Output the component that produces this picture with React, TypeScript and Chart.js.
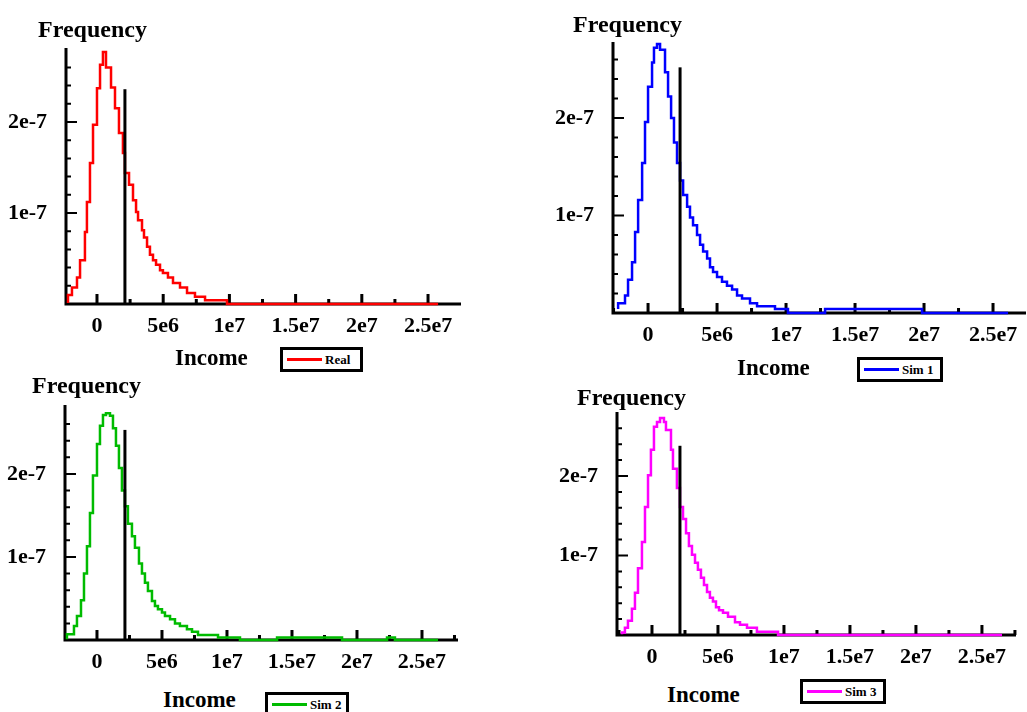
import React, { useEffect, useRef } from "react";
import { Chart, registerables } from "chart.js";

Chart.register(...registerables);

// ---------- tick values and labels ----------
const xMajorTicks = [0, 5e6, 1e7, 1.5e7, 2e7, 2.5e7];
const xTickLabels = ["0", "5e6", "1e7", "1.5e7", "2e7", "2.5e7"];
const xMinorTicks = [-2.5e6, 2.5e6, 7.5e6, 1.25e7, 1.75e7, 2.25e7, 2.75e7];
const yMajorTicks = [1e-7, 2e-7];
const yTickLabels = ["1e-7", "2e-7"];
const yMinorTicks = [0.2e-7, 0.4e-7, 0.6e-7, 0.8e-7, 1.2e-7, 1.4e-7, 1.6e-7, 1.8e-7, 2.2e-7, 2.4e-7, 2.6e-7];

// ---------- histogram bins (bin start income, last entry = end of last bin) ----------
const realBinStarts = [
  -2.19e6, -1.89e6, -1.51e6, -1.28e6, -0.91e6, -0.76e6, -0.53e6, -0.30e6, 0, 0.23e6,
  0.45e6, 0.68e6, 1.06e6, 1.36e6, 1.66e6, 1.96e6, 2.11e6, 2.42e6, 2.72e6, 2.95e6,
  3.10e6, 3.40e6, 3.55e6, 3.78e6, 4.00e6, 4.23e6, 4.46e6, 4.76e6, 4.98e6, 5.36e6,
  5.74e6, 6.27e6, 6.80e6, 7.40e6, 8.16e6, 9.82e6, 12.08e6, 25.76e6,
];
const realDensity = [
  0.01e-7, 0.10e-7, 0.18e-7, 0.29e-7, 0.48e-7, 0.79e-7, 1.12e-7, 1.55e-7, 1.97e-7, 2.37e-7,
  2.63e-7, 2.77e-7, 2.60e-7, 2.38e-7, 2.15e-7, 1.88e-7, 1.66e-7, 1.44e-7, 1.31e-7, 1.14e-7,
  1.01e-7, 0.92e-7, 0.81e-7, 0.73e-7, 0.63e-7, 0.54e-7, 0.48e-7, 0.43e-7, 0.37e-7, 0.34e-7,
  0.29e-7, 0.23e-7, 0.18e-7, 0.12e-7, 0.08e-7, 0.04e-7, 0,
];

const sim1BinStarts = [
  -2.17e6, -1.67e6, -1.45e6, -1.16e6, -0.94e6, -0.72e6, -0.43e6, -0.22e6, 0, 0.29e6,
  0.43e6, 0.65e6, 0.87e6, 1.23e6, 1.45e6, 1.67e6, 1.88e6, 2.10e6, 2.32e6, 2.54e6,
  2.83e6, 3.04e6, 3.26e6, 3.55e6, 3.77e6, 3.99e6, 4.28e6, 4.49e6, 4.71e6, 5.00e6,
  5.36e6, 5.72e6, 6.09e6, 6.45e6, 6.81e6, 7.39e6, 7.90e6, 9.20e6, 10.14e6, 12.83e6,
  19.86e6, 20.80e6, 26.09e6,
];
const sim1Density = [
  0.04e-7, 0.10e-7, 0.18e-7, 0.34e-7, 0.52e-7, 0.83e-7, 1.16e-7, 1.54e-7, 1.96e-7, 2.32e-7,
  2.57e-7, 2.72e-7, 2.76e-7, 2.70e-7, 2.47e-7, 2.22e-7, 2.00e-7, 1.75e-7, 1.54e-7, 1.36e-7,
  1.21e-7, 1.09e-7, 0.98e-7, 0.90e-7, 0.80e-7, 0.70e-7, 0.63e-7, 0.56e-7, 0.47e-7, 0.42e-7,
  0.37e-7, 0.32e-7, 0.28e-7, 0.24e-7, 0.18e-7, 0.15e-7, 0.10e-7, 0.07e-7, 0.04e-7, 0,
  0.04e-7, 0,
];

const sim2BinStarts = [
  -2.31e6, -1.77e6, -1.54e6, -1.23e6, -1.00e6, -0.77e6, -0.54e6, -0.31e6, 0, 0.23e6,
  0.46e6, 0.69e6, 1.00e6, 1.23e6, 1.46e6, 1.69e6, 1.92e6, 2.15e6, 2.38e6, 2.69e6,
  2.92e6, 3.23e6, 3.46e6, 3.69e6, 3.92e6, 4.23e6, 4.46e6, 4.69e6, 5.00e6, 5.23e6,
  5.62e6, 6.00e6, 6.38e6, 6.92e6, 7.31e6, 7.77e6, 9.31e6, 11.00e6, 13.85e6, 18.85e6,
  22.31e6, 22.92e6, 25.23e6, 26.23e6,
];
const sim2Density = [
  0.01e-7, 0.07e-7, 0.17e-7, 0.29e-7, 0.48e-7, 0.80e-7, 1.13e-7, 1.53e-7, 1.98e-7, 2.36e-7,
  2.58e-7, 2.71e-7, 2.73e-7, 2.70e-7, 2.55e-7, 2.34e-7, 2.07e-7, 1.80e-7, 1.61e-7, 1.40e-7,
  1.25e-7, 1.11e-7, 0.92e-7, 0.80e-7, 0.69e-7, 0.59e-7, 0.47e-7, 0.41e-7, 0.37e-7, 0.33e-7,
  0.29e-7, 0.25e-7, 0.20e-7, 0.17e-7, 0.13e-7, 0.10e-7, 0.06e-7, 0.03e-7, 0, 0.03e-7,
  0, 0.03e-7, 0,
];

const sim3BinStarts = [
  -2.27e6, -2.05e6, -1.82e6, -1.52e6, -1.29e6, -1.06e6, -0.76e6, -0.53e6, -0.30e6, -0.08e6,
  0.15e6, 0.38e6, 0.61e6, 0.91e6, 1.06e6, 1.44e6, 1.59e6, 1.89e6, 2.12e6, 2.35e6,
  2.58e6, 2.80e6, 3.03e6, 3.26e6, 3.48e6, 3.71e6, 3.94e6, 4.17e6, 4.39e6, 4.62e6,
  4.85e6, 5.08e6, 5.38e6, 5.76e6, 6.29e6, 6.67e6, 7.20e6, 7.95e6, 9.55e6, 12.50e6,
  26.52e6,
];
const sim3Density = [
  0.01e-7, 0.03e-7, 0.09e-7, 0.18e-7, 0.33e-7, 0.53e-7, 0.84e-7, 1.17e-7, 1.61e-7, 2.01e-7,
  2.33e-7, 2.62e-7, 2.68e-7, 2.73e-7, 2.68e-7, 2.58e-7, 2.33e-7, 2.09e-7, 1.85e-7, 1.61e-7,
  1.46e-7, 1.28e-7, 1.12e-7, 1.01e-7, 0.91e-7, 0.82e-7, 0.72e-7, 0.63e-7, 0.54e-7, 0.47e-7,
  0.42e-7, 0.35e-7, 0.31e-7, 0.28e-7, 0.23e-7, 0.16e-7, 0.13e-7, 0.09e-7, 0.04e-7, 0,
];

// black vertical marker (income position and its height) per panel
const markerIncome = [2.11e6, 2.32e6, 2.15e6, 2.12e6];
const markerHeight = [2.36e-7, 2.52e-7, 2.53e-7, 2.38e-7];

const seriesNames = ["Real", "Sim 1", "Sim 2", "Sim 3"];
const seriesColors = ["#ff0000", "#0000ff", "#00bb00", "#ff00ff"];

// ---------- layout ----------
const Y_W = 60;
const X_H = 44;
const PAD_T = 30;
const PAD_R = 12;
const SERIF = '"Liberation Serif", "Times New Roman", serif';

const panels = [
  {
    starts: realBinStarts, dens: realDensity,
    plot: { l: 66, t: 48, r: 461, b: 304 }, xMin: -2.34e6, xMax: 27.49e6, yMax: 2.813e-7,
    freq: { x: 38, y: 17 }, income: { x: 175, y: 346 }, legend: { x: 280, y: 347, w: 83, h: 25 },
  },
  {
    starts: sim1BinStarts, dens: sim1Density,
    plot: { l: 613, t: 42, r: 1026, b: 313 }, xMin: -2.54e6, xMax: 27.39e6, yMax: 2.78e-7,
    freq: { x: 573, y: 12 }, income: { x: 737, y: 356 }, legend: { x: 857, y: 357, w: 86, h: 25 },
  },
  {
    starts: sim2BinStarts, dens: sim2Density,
    plot: { l: 65, t: 405, r: 458, b: 640 }, xMin: -2.46e6, xMax: 27.77e6, yMax: 2.83e-7,
    freq: { x: 32, y: 373 }, income: { x: 163, y: 688 }, legend: { x: 265, y: 692, w: 84, h: 25 },
  },
  {
    starts: sim3BinStarts, dens: sim3Density,
    plot: { l: 617, t: 412, r: 1016, b: 635 }, xMin: -2.65e6, xMax: 27.58e6, yMax: 2.805e-7,
    freq: { x: 577, y: 385 }, income: { x: 667, y: 683 }, legend: { x: 800, y: 679, w: 86, h: 25 },
  },
];

const isIn = (v: number, arr: number[]) =>
  arr.some((m) => Math.abs(v - m) <= Math.abs(m) * 1e-6 + 1e-13);

const labelFor = (v: number, vals: number[], labels: string[]) => {
  const i = vals.findIndex((m) => Math.abs(v - m) <= Math.abs(m) * 1e-6 + 1e-13);
  return i >= 0 ? labels[i] : "";
};

const stepData = (starts: number[], dens: number[]) =>
  starts.map((x, i) => ({ x, y: dens[Math.min(i, dens.length - 1)] }));

const axesPlugin = {
  id: "insideAxes",
  beforeDatasetsDraw(chart: any) {
    const { ctx, chartArea: a, scales } = chart;
    const xs = scales.x;
    const ys = scales.y;
    ctx.save();
    ctx.strokeStyle = "#000";
    ctx.lineCap = "butt";
    ctx.lineWidth = 3;
    ctx.beginPath();
    ctx.moveTo(a.left, a.top);
    ctx.lineTo(a.left, a.bottom + 1.5);
    ctx.moveTo(a.left - 1.5, a.bottom);
    ctx.lineTo(a.right, a.bottom);
    ctx.stroke();
    ctx.beginPath();
    xs.ticks.forEach((t: any) => {
      const p = xs.getPixelForValue(t.value);
      const len = isIn(t.value, xMajorTicks) ? 10 : 5;
      ctx.moveTo(p, a.bottom);
      ctx.lineTo(p, a.bottom - len);
    });
    ctx.stroke();
    ctx.lineWidth = 2;
    ctx.beginPath();
    ys.ticks.forEach((t: any) => {
      const p = ys.getPixelForValue(t.value);
      const len = isIn(t.value, yMajorTicks) ? 11 : 5;
      ctx.moveTo(a.left, p);
      ctx.lineTo(a.left + len, p);
    });
    ctx.stroke();
    ctx.restore();
  },
};

function Panel({ idx }: { idx: number }) {
  const ref = useRef<HTMLCanvasElement | null>(null);
  const p = panels[idx];
  const w = p.plot.r - p.plot.l + Y_W + PAD_R;
  const h = p.plot.b - p.plot.t + PAD_T + X_H;

  useEffect(() => {
    if (!ref.current) return;
    const xTicks = [...xMajorTicks, ...xMinorTicks]
      .filter((v) => v >= p.xMin && v <= p.xMax)
      .sort((a, b) => a - b);
    const yTicks = [...yMajorTicks, ...yMinorTicks]
      .filter((v) => v >= 0 && v <= p.yMax)
      .sort((a, b) => a - b);
    const chart = new Chart(ref.current, {
      type: "line",
      data: {
        datasets: [
          {
            label: seriesNames[idx],
            data: stepData(p.starts, p.dens),
            borderColor: seriesColors[idx],
            borderWidth: 2.5,
            stepped: "after",
            pointRadius: 0,
            fill: false,
            borderJoinStyle: "miter",
            order: 2,
            clip: false,
          } as any,
          {
            label: "marker",
            data: [
              { x: markerIncome[idx], y: 0 },
              { x: markerIncome[idx], y: markerHeight[idx] },
            ],
            borderColor: "#000",
            borderWidth: 3,
            pointRadius: 0,
            fill: false,
            order: 1,
            clip: false,
          } as any,
        ],
      },
      options: {
        animation: false,
        responsive: false,
        maintainAspectRatio: false,
        events: [],
        layout: { padding: { top: PAD_T, right: PAD_R, left: 0, bottom: 0 } },
        plugins: {
          legend: { display: false },
          tooltip: { enabled: false },
          title: { display: false },
        },
        scales: {
          x: {
            type: "linear",
            min: p.xMin,
            max: p.xMax,
            bounds: "data",
            grid: { display: false },
            border: { display: false },
            afterBuildTicks: (s: any) => {
              s.ticks = xTicks.map((v) => ({ value: v }));
            },
            afterFit: (s: any) => {
              s.height = X_H;
            },
            ticks: {
              autoSkip: false,
              includeBounds: false,
              maxRotation: 0,
              minRotation: 0,
              padding: 1,
              color: "#000",
              font: { family: SERIF, size: 22, weight: "bold" },
              callback: (v: any) => labelFor(Number(v), xMajorTicks, xTickLabels),
            },
          } as any,
          y: {
            type: "linear",
            min: 0,
            max: p.yMax,
            bounds: "data",
            grid: { display: false },
            border: { display: false },
            afterBuildTicks: (s: any) => {
              s.ticks = yTicks.map((v) => ({ value: v }));
            },
            afterFit: (s: any) => {
              s.width = Y_W;
            },
            ticks: {
              autoSkip: false,
              includeBounds: false,
              padding: 11,
              color: "#000",
              font: { family: SERIF, size: 22, weight: "bold" },
              callback: (v: any) => labelFor(Number(v), yMajorTicks, yTickLabels),
            },
          } as any,
        },
      },
      plugins: [axesPlugin as any],
    });
    return () => chart.destroy();
  }, [idx]);

  return (
    <canvas
      ref={ref}
      width={w}
      height={h}
      style={{
        position: "absolute",
        left: p.plot.l - Y_W,
        top: p.plot.t - PAD_T,
        width: w,
        height: h,
      }}
    />
  );
}

function Labels({ idx }: { idx: number }) {
  const p = panels[idx];
  const text: React.CSSProperties = {
    position: "absolute",
    fontFamily: SERIF,
    fontWeight: "bold",
    whiteSpace: "nowrap",
    color: "#000",
  };
  return (
    <>
      <div style={{ ...text, left: p.freq.x, top: p.freq.y, fontSize: 24, lineHeight: "24px" }}>
        Frequency
      </div>
      <div style={{ ...text, left: p.income.x, top: p.income.y, fontSize: 23, lineHeight: "23px" }}>
        Income
      </div>
      <div
        style={{
          position: "absolute",
          left: p.legend.x,
          top: p.legend.y,
          width: p.legend.w,
          height: p.legend.h,
          boxSizing: "border-box",
          border: "3px solid #000",
          background: "#fff",
          display: "flex",
          alignItems: "center",
          paddingLeft: 4,
        }}
      >
        <div style={{ width: 35, height: 3, background: seriesColors[idx], flex: "none" }} />
        <div
          style={{
            fontFamily: SERIF,
            fontWeight: "bold",
            fontSize: 13,
            lineHeight: "13px",
            marginLeft: 3,
            whiteSpace: "nowrap",
          }}
        >
          {seriesNames[idx]}
        </div>
      </div>
    </>
  );
}

export default function App() {
  return (
    <div
      style={{
        position: "absolute",
        left: 0,
        top: 0,
        width: 1027,
        height: 712,
        overflow: "hidden",
        background: "#fff",
      }}
    >
      {panels.map((_, i) => (
        <Panel key={"c" + i} idx={i} />
      ))}
      {panels.map((_, i) => (
        <Labels key={"l" + i} idx={i} />
      ))}
    </div>
  );
}
